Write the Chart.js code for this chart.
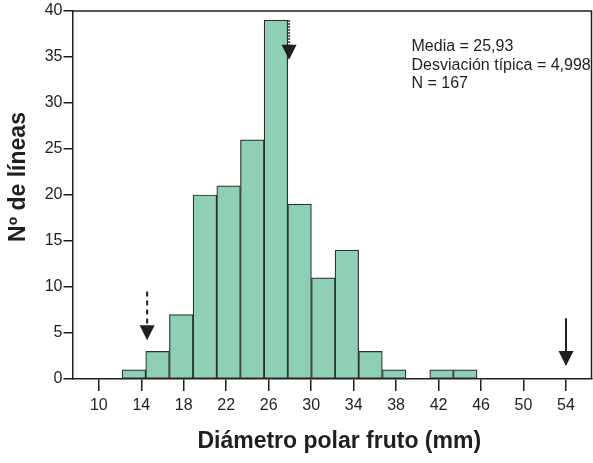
<!DOCTYPE html>
<html>
<head>
<meta charset="utf-8">
<script src="https://cdn.jsdelivr.net/npm/chart.js@4/dist/chart.umd.min.js"></script>
<style>
  html, body { margin: 0; padding: 0; background: #fff; }
  #wrap { width: 593px; height: 463px; }
</style>
</head>
<body>
<div id="wrap"><canvas id="c" width="593" height="463"></canvas></div>
<script>
// ---- data ----
const binCenters = [13.30, 15.53, 17.76, 19.99, 22.22, 24.45, 26.68, 28.91, 31.14, 33.36, 35.59, 37.82, 40.05, 42.28, 44.51];
const counts     = [1, 3, 7, 20, 21, 26, 39, 19, 11, 14, 3, 1, 0, 1, 1];
const xTickValues = [10, 14, 18, 22, 26, 30, 34, 38, 42, 46, 50, 54];
const xRange = [7.52, 56.45];
const yRange = [0, 40];
const yStep = 5;
const statLines = ['Media = 25,93', 'Desviación típica = 4,998', 'N = 167'];
const xTitle = 'Diámetro polar fruto (mm)';
const yTitle = 'Nº de líneas';
// arrows: x value, top (tail) value, tip value
const arrowX   = [14.55, 27.92, 54];
const arrowTop = [9.5, 39.0, 6.6];
const arrowTip = [4.2, 34.7, 1.4];

// ---- styles ----
const INK = '#1f1f1f';
const BAR_FILL = '#8dd0b6';
const BAR_EDGE = '#2e2e2e';
const FONT = '"Liberation Sans", Arial, sans-serif';
const arrowStyles = [
  { dash: [5, 4], width: 2 },
  { dash: [1.5, 1.5], width: 2 },
  { dash: [], width: 2 }
];

const framePlugin = {
  id: 'frame',
  afterDatasetsDraw(chart) {
    const { ctx, chartArea: a, scales } = chart;
    ctx.save();
    ctx.strokeStyle = INK;
    ctx.lineWidth = 1.5;
    ctx.beginPath();
    ctx.moveTo(a.left, a.top);
    ctx.lineTo(a.right - 0.5, a.top);
    ctx.lineTo(a.right - 0.5, a.bottom);
    ctx.stroke();

    arrowX.forEach((xv, i) => {
      const st = arrowStyles[i];
      const px = scales.x.getPixelForValue(xv);
      const pTop = scales.y.getPixelForValue(arrowTop[i]);
      const pTip = scales.y.getPixelForValue(arrowTip[i]);
      const head = 15, half = 7.5;
      ctx.strokeStyle = INK;
      ctx.lineWidth = st.width;
      ctx.setLineDash(st.dash);
      ctx.beginPath();
      ctx.moveTo(px, pTop);
      ctx.lineTo(px, pTip - head);
      ctx.stroke();
      ctx.setLineDash([]);
      ctx.fillStyle = INK;
      ctx.beginPath();
      ctx.moveTo(px - half, pTip - head);
      ctx.lineTo(px + half, pTip - head);
      ctx.lineTo(px, pTip);
      ctx.closePath();
      ctx.fill();
    });

    ctx.fillStyle = INK;
    ctx.font = '16px ' + FONT;
    ctx.textAlign = 'left';
    ctx.textBaseline = 'alphabetic';
    statLines.forEach((t, i) => {
      ctx.fillText(t, a.left + 339, a.top + 40 + i * 18.5);
    });

    ctx.font = 'bold 23px ' + FONT;
    ctx.textAlign = 'center';
    ctx.fillText(xTitle, (a.left + a.right) / 2 + 7, a.bottom + 69);
    ctx.save();
    ctx.translate(25, (a.top + a.bottom) / 2 - 18);
    ctx.rotate(-Math.PI / 2);
    ctx.fillText(yTitle, 0, 0);
    ctx.restore();
    ctx.restore();
  }
};

new Chart(document.getElementById('c'), {
  type: 'bar',
  data: {
    datasets: [{
      data: binCenters.map((x, i) => ({ x: x, y: counts[i] })),
      backgroundColor: BAR_FILL,
      borderColor: BAR_EDGE,
      borderWidth: 1.2,
      borderSkipped: false,
      barPercentage: 1,
      categoryPercentage: 1
    }]
  },
  options: {
    responsive: false,
    animation: false,
    layout: { padding: { top: 11, right: 1, left: 0, bottom: 0 } },
    plugins: { legend: { display: false }, tooltip: { enabled: false } },
    scales: {
      x: {
        type: 'linear',
        offset: false,
        min: xRange[0],
        max: xRange[1],
        afterBuildTicks: (s) => { s.ticks = xTickValues.map(v => ({ value: v })); },
        afterFit: (s) => { s.height = 84; },
        ticks: {
          autoSkip: false, maxRotation: 0, padding: 5,
          color: INK,
          font: { family: FONT, size: 16 }
        },
        grid: { offset: false, drawOnChartArea: false, drawTicks: true, tickLength: 12, tickColor: INK, lineWidth: 1.5 },
        border: { display: true, color: INK, width: 1.5 }
      },
      y: {
        min: yRange[0],
        max: yRange[1],
        afterFit: (s) => { s.width = 72.5; },
        ticks: {
          stepSize: yStep, padding: 1,
          color: INK,
          font: { family: FONT, size: 16 }
        },
        grid: { drawOnChartArea: false, drawTicks: true, tickLength: 9, tickColor: INK, lineWidth: 1.5 },
        border: { display: true, color: INK, width: 1.5 }
      }
    }
  },
  plugins: [framePlugin]
});
</script>
</body>
</html>
